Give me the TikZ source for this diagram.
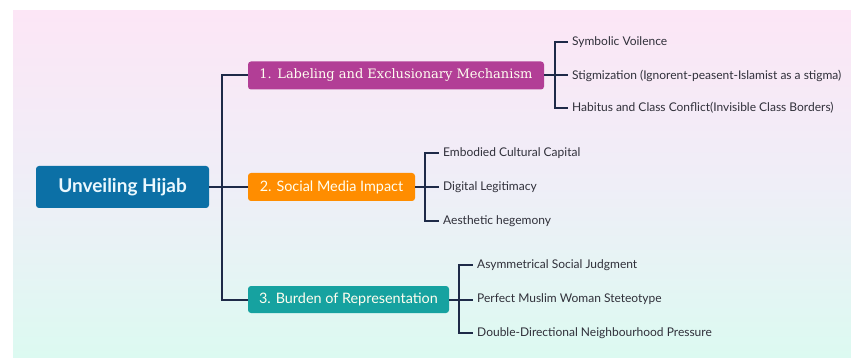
\documentclass[tikz,border=0pt]{standalone}
\usepackage{fontspec}
\setmainfont{Lato}
\newfontfamily\serifbox{DejaVu Serif}
\usepackage{tikz}
\definecolor{bb}{RGB}{12, 112, 166}
\definecolor{mm}{RGB}{178, 62, 150}
\definecolor{oo}{RGB}{255, 141, 0}
\definecolor{tt}{RGB}{22, 162, 160}
\definecolor{ll}{RGB}{30, 42, 72}
\definecolor{tx}{RGB}{48, 48, 58}
\definecolor{pk}{RGB}{252, 230, 246}
\definecolor{lv}{RGB}{239, 238, 247}
\definecolor{mt}{RGB}{220, 250, 241}

\tikzset{
  rootbox/.style={rectangle, rounded corners=3pt, fill=bb, text=cyan!8,
    minimum width=173pt, minimum height=42pt, inner sep=0pt,
    font=\fontsize{19}{22}\selectfont\bfseries},
  branchbox/.style={rectangle, rounded corners=3pt, text=white!94!yellow,
    minimum height=28pt, inner sep=0pt, font=\fontsize{14.4}{17}\selectfont},
  leaf/.style={anchor=west, inner sep=4pt, text=tx, font=\fontsize{12}{14}\selectfont},
  link/.style={line width=2pt, color=ll}
}

\begin{document}
\begin{tikzpicture}[x=1pt, y=1pt]
\useasboundingbox (0,0) rectangle (851,-358);
\shade [top color=pk, bottom color=mt, middle color=lv] (13,-11) rectangle (851,-358);

% root and the three branches
\node (0) [rootbox] at (122.5, -187) {Unveiling Hijab};
\node (1) [branchbox, fill=mm, minimum width=296pt, font=\fontsize{13}{16}\selectfont\serifbox] at (396, -75.5) {1. Labeling and Exclusionary Mechanism};
\node (2) [branchbox, fill=oo, minimum width=167pt] at (331.5, -187) {2. Social Media Impact};
\node (3) [branchbox, fill=tt, minimum width=201pt, minimum height=27pt] at (348.5, -299.5) {3. Burden of Representation};

% leaves
\node (11) [leaf] at (568, -42) {Symbolic Voilence};
\node (12) [leaf] at (568, -75.5) {Stigmization (Ignorent-peasent-Islamist as a stigma)};
\node (13) [leaf] at (568, -108) {Habitus and Class Conflict(Invisible Class Borders)};
\node (21) [leaf] at (439, -153) {Embodied Cultural Capital};
\node (22) [leaf] at (439, -187) {Digital Legitimacy};
\node (23) [leaf] at (439, -221) {Aesthetic hegemony};
\node (31) [leaf] at (473, -265) {Asymmetrical Social Judgment};
\node (32) [leaf] at (473, -299.5) {Perfect Muslim Woman Steteotype};
\node (33) [leaf] at (473, -333) {Double-Directional Neighbourhood Pressure};

\foreach \b in {1,2,3}
  \draw [link] (0.east) -- ++(13,0) |- (\b.west);
\foreach \l in {11,12,13}
  \draw [link] (1.east) -- ++(11,0) |- (\l.west);
\foreach \l in {21,22,23}
  \draw [link] (2.east) -- ++(10,0) |- (\l.west);
\foreach \l in {31,32,33}
  \draw [link] (3.east) -- ++(10,0) |- (\l.west);
\end{tikzpicture}
\end{document}
